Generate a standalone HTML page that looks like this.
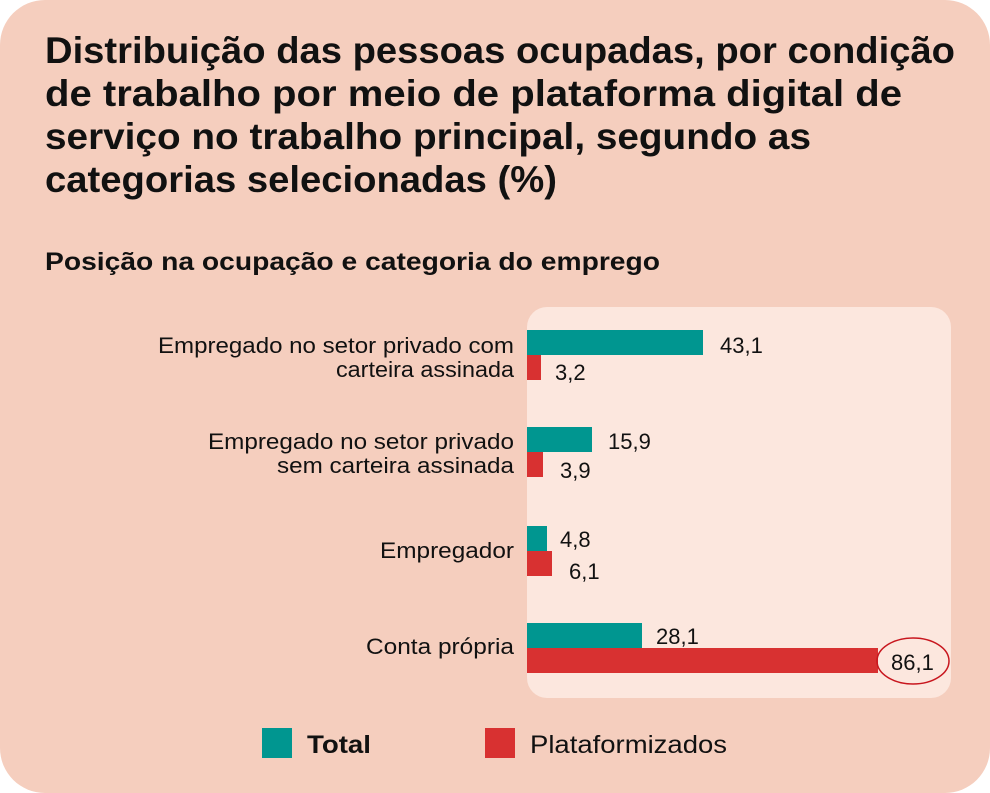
<!DOCTYPE html>
<html><head><meta charset="utf-8"><style>
html,body{margin:0;padding:0;background:#fff;}
svg{display:block;font-family:"Liberation Sans",sans-serif;}
</style></head><body>
<svg width="990" height="793" viewBox="0 0 990 793">
<rect x="0" y="0" width="990" height="793" rx="45" fill="#f5cebe"/>
<g font-weight="bold" fill="#111" font-size="37">
<text x="45" y="63" textLength="910" lengthAdjust="spacingAndGlyphs">Distribuição das pessoas ocupadas, por condição</text>
<text x="45" y="106" textLength="857" lengthAdjust="spacingAndGlyphs">de trabalho por meio de plataforma digital de</text>
<text x="45" y="149" textLength="766" lengthAdjust="spacingAndGlyphs">serviço no trabalho principal, segundo as</text>
<text x="45" y="192" textLength="512" lengthAdjust="spacingAndGlyphs">categorias selecionadas (%)</text>
</g>
<text x="45" y="270" font-weight="bold" font-size="25" fill="#111" textLength="615" lengthAdjust="spacingAndGlyphs">Posição na ocupação e categoria do emprego</text>
<rect x="527" y="307" width="424" height="391" rx="20" fill="#fce7de"/>
<g fill="#009690">
<rect x="527" y="330" width="176" height="25"/>
<rect x="527" y="427" width="65" height="25"/>
<rect x="527" y="526" width="20" height="25"/>
<rect x="527" y="623" width="115" height="25"/>
</g>
<g fill="#d83131">
<rect x="527" y="355" width="14" height="25"/>
<rect x="527" y="452" width="16" height="25"/>
<rect x="527" y="551" width="25" height="25"/>
<rect x="527" y="648" width="351" height="25"/>
</g>
<g font-size="22" fill="#111" text-anchor="end">
<text x="514" y="353" textLength="356" lengthAdjust="spacingAndGlyphs">Empregado no setor privado com</text>
<text x="514" y="377" textLength="178" lengthAdjust="spacingAndGlyphs">carteira assinada</text>
<text x="514" y="449" textLength="306" lengthAdjust="spacingAndGlyphs">Empregado no setor privado</text>
<text x="514" y="473" textLength="237" lengthAdjust="spacingAndGlyphs">sem carteira assinada</text>
<text x="514" y="558" textLength="134" lengthAdjust="spacingAndGlyphs">Empregador</text>
<text x="514" y="654" textLength="148" lengthAdjust="spacingAndGlyphs">Conta própria</text>
</g>
<g font-size="22" fill="#111">
<text x="720" y="353">43,1</text>
<text x="555" y="380">3,2</text>
<text x="608" y="449">15,9</text>
<text x="560" y="478">3,9</text>
<text x="560" y="547">4,8</text>
<text x="569" y="579">6,1</text>
<text x="656" y="644">28,1</text>
<text x="891" y="670">86,1</text>
</g>
<ellipse cx="913" cy="661" rx="36" ry="23" fill="none" stroke="#c8161e" stroke-width="1.5"/>
<rect x="262" y="728" width="30" height="30" fill="#009690"/>
<text x="307" y="753" font-size="25" font-weight="bold" fill="#111" textLength="64" lengthAdjust="spacingAndGlyphs">Total</text>
<rect x="485" y="728" width="30" height="30" fill="#d83131"/>
<text x="530" y="753" font-size="25" fill="#111" textLength="197" lengthAdjust="spacingAndGlyphs">Plataformizados</text>
</svg>
</body></html>
